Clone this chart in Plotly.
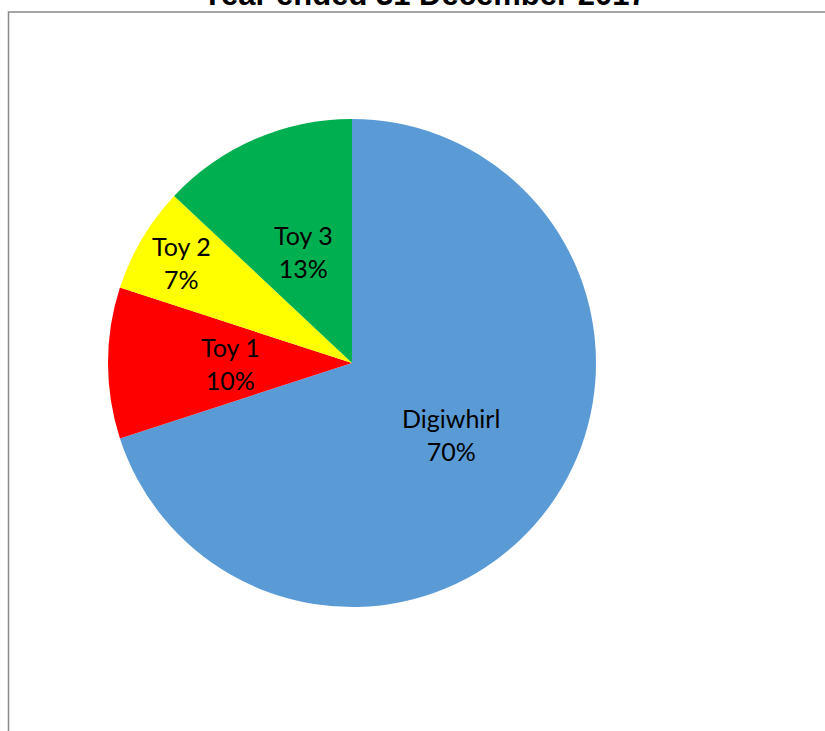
import math
import plotly.graph_objects as go

title_text = "Year ended 31 December 2017"
categories = ["Digiwhirl", "Toy 1", "Toy 2", "Toy 3"]
shares = [70, 10, 7, 13]
colors = ["#5B9BD5", "#FF0000", "#FFFF00", "#00B050"]
label_radius = [0.5, 0.5, 0.81, 0.5]  # fraction of pie radius for each label

W, H = 825, 731
cx, cy, r = 352, 363, 244

fig = go.Figure(go.Pie(
    labels=categories,
    values=shares,
    marker=dict(colors=colors, line=dict(width=0)),
    sort=False,
    direction="clockwise",
    rotation=0,
    textinfo="none",
    showlegend=False,
    hoverinfo="skip",
    domain=dict(x=[(cx - r) / W, (cx + r) / W], y=[(H - cy - r) / H, (H - cy + r) / H]),
))

# slice labels placed at each slice's mid-angle
total = sum(shares)
cum = 0.0
for name, v, rf in zip(categories, shares, label_radius):
    mid = (cum + v / 2) / total * 2 * math.pi
    cum += v
    px = cx + rf * r * math.sin(mid)
    py = cy - rf * r * math.cos(mid)
    fig.add_annotation(text=f"{name}<br>{round(v / total * 100)}%",
                       xref="paper", yref="paper", x=px / W, y=1 - py / H,
                       xanchor="center", yanchor="middle", showarrow=False,
                       font=dict(family="Lato", size=25, color="#000000"))

fig.add_shape(type="rect", xref="paper", yref="paper",
              x0=8.5 / W, x1=1.2, y0=-0.2, y1=(H - 12) / H,
              line=dict(color="#888888", width=1.5), fillcolor="rgba(0,0,0,0)", layer="below")

fig.add_annotation(text="<b>" + title_text + "</b>", xref="paper", yref="paper",
                   x=424 / W, y=(H - 14) / H, xanchor="center", yanchor="bottom",
                   showarrow=False,
                   font=dict(family="Liberation Sans", size=31, color="#000000"))

fig.update_layout(
    width=W, height=H,
    margin=dict(l=0, r=0, t=0, b=0),
    paper_bgcolor="#FFFFFF",
    plot_bgcolor="#FFFFFF",
)

fig.write_html("out.html",
               config={"displayModeBar": False},
               post_script="document.body.style.margin='0';document.body.style.overflow='hidden';")
